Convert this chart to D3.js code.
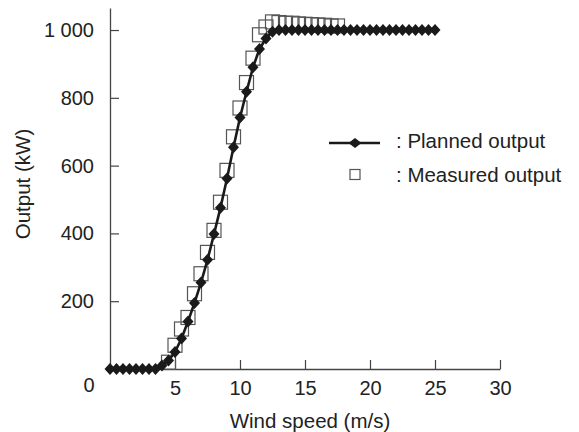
<!DOCTYPE html>
<html><head><meta charset="utf-8">
<script src="https://cdn.jsdelivr.net/npm/d3@7"></script>
<style>
html,body{margin:0;padding:0;background:#fff;}
text{font-family:"Liberation Sans",Arial,sans-serif;fill:#222;}
</style></head>
<body><svg id="chart" width="579" height="432"></svg>
<script>
// Planned output (kW) vs wind speed (m/s)
const plannedSpeed = [0,0.5,1,1.5,2,2.5,3,3.5,4,4.5,5,5.5,6,6.5,7,7.5,8,8.5,9,9.5,10,10.5,11,11.5,12,12.5,13,13.5,14,14.5,15,15.5,16,16.5,17,17.5,18,18.5,19,19.5,20,20.5,21,21.5,22,22.5,23,23.5,24,24.5,25];
const plannedOutput = [0,0,0,0,0,0,0,0,10,25,50,90,140,195,255,322,398,476,562,654,742,818,890,944,975,995,1000,1000,1000,1000,1000,1000,1000,1000,1000,1000,1000,1000,1000,1000,1000,1000,1000,1000,1000,1000,1000,1000,1000,1000,1000];
// Measured output
const measuredSpeed = [4.5,5,5.5,6,6.5,7,7.5,8,8.5,9,9.5,10,10.5,11,11.5,12,12.5,13,13.5,14,14.5,15,15.5,16,16.5,17,17.5];
const measuredOutput = [20,70,118,152,222,281,344,409,492,586,685,770,845,917,986,1009,1024,1022,1020,1020,1018,1017,1016,1015,1014,1012,1012];
const xTicks = [5,10,15,20,25,30];
const yTicks = [200,400,600,800,1000];
const legendLabels = [": Planned output", ": Measured output"];

const svg = d3.select("#chart");
const x = d3.scaleLinear().domain([0,30]).range([110,500]);
const y = d3.scaleLinear().domain([0,1065]).range([369,8]);
const axisColor = "#444";
const fmt = v => v >= 1000 ? d3.format(",")(v).replace(",", "\u2009") : String(v);

// axes
const xAxis = svg.append("g").attr("transform","translate(0,369)")
  .call(d3.axisBottom(x).tickValues(xTicks).tickSizeInner(-9).tickSizeOuter(0).tickPadding(12));
xAxis.select(".domain").attr("stroke",axisColor).attr("stroke-width",1.3);
xAxis.selectAll(".tick line").attr("stroke",axisColor).attr("stroke-width",1.2);
xAxis.selectAll(".tick text").attr("font-size",20).attr("fill","#222").attr("dy","0.71em")
  .style("font-family","'Liberation Sans',Arial,sans-serif");

const yAxis = svg.append("g").attr("transform","translate(110,0)")
  .call(d3.axisLeft(y).tickValues(yTicks).tickSizeInner(-9).tickSizeOuter(0).tickPadding(16).tickFormat(v => v===1000 ? "1 000" : String(v)));
yAxis.select(".domain").attr("stroke",axisColor).attr("stroke-width",1.3);
yAxis.selectAll(".tick line").attr("stroke",axisColor).attr("stroke-width",1.2);
yAxis.selectAll(".tick text").attr("font-size",20).attr("fill","#222")
  .style("font-family","'Liberation Sans',Arial,sans-serif");

// origin label
svg.append("text").attr("x",89).attr("y",392).attr("text-anchor","middle").attr("font-size",20).text("0");

// axis titles
svg.append("text").attr("x",310).attr("y",428).attr("text-anchor","middle").attr("font-size",20.5).text("Wind speed (m/s)");
svg.append("text").attr("transform","translate(30,184) rotate(-90)").attr("text-anchor","middle").attr("font-size",20.5).text("Output (kW)");

// measured squares
const sq = 14;
svg.append("g").selectAll("rect").data(measuredSpeed).join("rect")
  .attr("x",(d,i)=>x(d)-sq/2).attr("y",(d,i)=>y(measuredOutput[i])-sq/2)
  .attr("width",sq).attr("height",sq)
  .attr("fill","none").attr("stroke","#555").attr("stroke-width",1.2);

// planned line
const line = d3.line().x((d,i)=>x(plannedSpeed[i])).y(d=>y(d));
svg.append("path").datum(plannedOutput).attr("d",line)
  .attr("fill","none").attr("stroke","#1a1a1a").attr("stroke-width",2.6).attr("stroke-linejoin","round");

const diamond = (w,h) => `M0,${-h}L${w},0L0,${h}L${-w},0Z`;
svg.append("g").selectAll("path").data(plannedOutput).join("path")
  .attr("transform",(d,i)=>`translate(${x(plannedSpeed[i])},${y(d)})`)
  .attr("d",diamond(5.5,6)).attr("fill","#1a1a1a");

// legend
const lg = svg.append("g");
lg.append("line").attr("x1",329).attr("x2",380).attr("y1",143).attr("y2",143).attr("stroke","#1a1a1a").attr("stroke-width",2.6);
lg.append("path").attr("transform","translate(355,143)").attr("d",diamond(6.5,5)).attr("fill","#1a1a1a");
lg.append("text").attr("x",396).attr("y",148).attr("font-size",20.5).text(legendLabels[0]);
lg.append("rect").attr("x",350).attr("y",169.5).attr("width",10).attr("height",10).attr("fill","none").attr("stroke","#555").attr("stroke-width",1.2);
lg.append("text").attr("x",396).attr("y",182).attr("font-size",20.5).text(legendLabels[1]);
</script></body></html>
